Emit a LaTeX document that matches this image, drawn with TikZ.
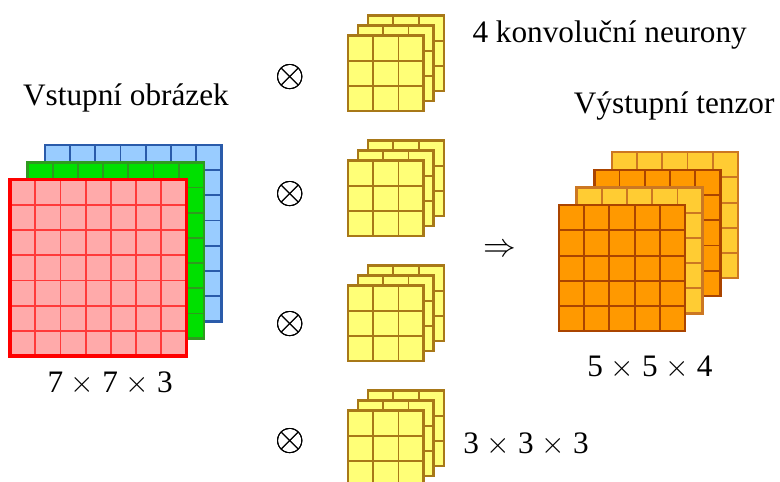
\documentclass[tikz,border=0pt]{standalone}
\usepackage{fontspec}
\setmainfont{Liberation Serif}
\usepackage{tikz}
\usetikzlibrary{positioning}

\definecolor{cervenaV}{HTML}{FFAAAA}
\definecolor{cervenaC}{HTML}{FF3A3A}
\definecolor{cervenaO}{HTML}{FF0000}
\definecolor{zelenaV}{HTML}{00E000}
\definecolor{zelenaC}{HTML}{2F9A1F}
\definecolor{modraV}{HTML}{99CCFF}
\definecolor{modraC}{HTML}{2A5BAA}
\definecolor{zlutaV}{HTML}{FFFF77}
\definecolor{zlutaC}{HTML}{A87818}
\definecolor{oranzV}{HTML}{FF9900}
\definecolor{oranzC}{HTML}{AA4400}
\definecolor{svetlaV}{HTML}{FFCC33}
\definecolor{svetlaC}{HTML}{CC7722}

\tikzset{
    %Define style for labels
    popis/.style={
           font=\fontsize{12.4}{15}\selectfont,
           inner sep=0pt},
    %Define style for cell lines
    mrizka/.style={line width=0.75pt},
    %Define style for layer outline
    obrys/.style={line width=1pt}
}

% square layer of n x n cells: corner, n, fill, cell lines, outline
\newcommand{\vrstva}[5]{%
  \begin{scope}[shift={#1}]
    \fill[#3] (0,0) rectangle (#2,#2);
    \foreach \i in {0,...,#2}{
      \draw[mrizka,#4] (\i,0) -- (\i,#2);
      \draw[mrizka,#4] (0,\i) -- (#2,\i);
    }
    \draw[obrys,#5] (0,0) rectangle (#2,#2);
  \end{scope}}

\begin{document}
\begin{tikzpicture}[x=10pt,y=10pt]
\useasboundingbox (0,0) rectangle (30.95,19.09);

 %input image
\vrstva{(1.78,6.34)}{7}{modraV}{modraC}{modraC}
\vrstva{(1.09,5.65)}{7}{zelenaV}{zelenaC}{zelenaC}
\vrstva{(0.40,4.96)}{7}{cervenaV}{cervenaC}{cervenaO}
\draw[cervenaO, line width=1.3pt] (0.40,4.96) rectangle ++(7,7);

 %kernels
\foreach \y/\o [count=\k] in {14.68/16.03, 9.72/11.39, 4.76/6.23, -0.20/1.59}{
  \foreach \d in {0.8,0.4,0}
    \vrstva{(13.81+\d,\y+\d)}{3}{zlutaV}{zlutaC}{zlutaC}
  \node[popis] (krat\k) at (11.51,\o) {\scalebox{1.25}{$\otimes$}};
}

 %output tensor
\vrstva{(24.28,8.05)}{5}{svetlaV}{svetlaC}{svetlaC}
\vrstva{(23.58,7.35)}{5}{oranzV}{oranzC}{oranzC}
\vrstva{(22.88,6.65)}{5}{svetlaV}{svetlaC}{svetlaC}
\vrstva{(22.18,5.95)}{5}{oranzV}{oranzC}{oranzC}

 %labels
\node[popis, anchor=base] (vstup) at (5.0,14.92) {Vstupní obrázek};
\node[popis, anchor=base] (vstupRozmer) at (4.37,3.53) {7 $\times$ 7 $\times$ 3};
\node[popis, anchor=base west] (neurony) at (18.73,17.42) {4 konvoluční neurony};
\node[popis, anchor=base west] (jadroRozmer) at (18.37,1.11) {3 $\times$ 3 $\times$ 3};
\node[popis] (sipka) at (19.84,9.17) {\scalebox{1.08}{$\Rightarrow$}};
\node[popis, anchor=base] (vystup) at (26.75,14.60) {Výstupní tenzor};
\node[popis, anchor=base] (vystupRozmer) at (25.79,4.17) {5 $\times$ 5 $\times$ 4};

\end{tikzpicture}
\end{document}
